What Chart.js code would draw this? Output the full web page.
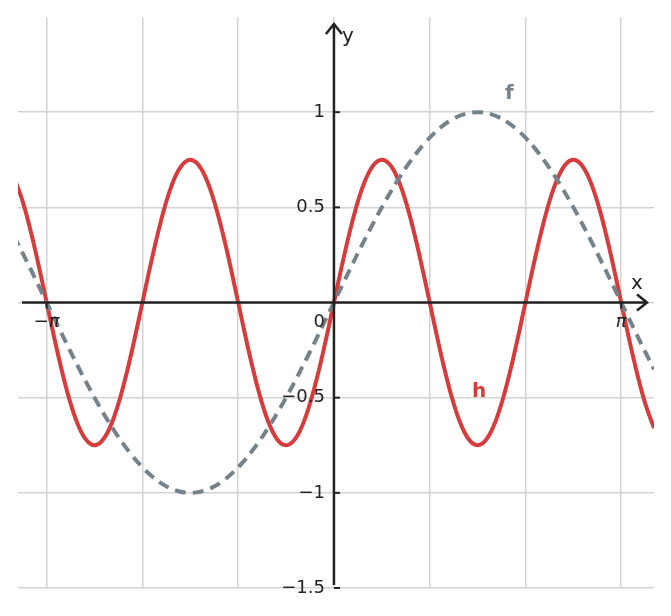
<!DOCTYPE html>
<html><head><meta charset="utf-8">
<script src="https://cdn.jsdelivr.net/npm/chart.js@4"></script>
<style>body{margin:0;background:#fff}#w{width:671px;height:616px}</style>
</head><body><div id="w"><canvas id="c"></canvas></div>
<script>
const xs=[-3.5,-3.4,-3.3,-3.2,-3.1,-3.0,-2.9,-2.8,-2.7,-2.6,-2.5,-2.4,-2.3,-2.2,-2.1,-2.0,-1.9,-1.8,-1.7,-1.6,-1.5,-1.4,-1.3,-1.2,-1.1,-1.0,-0.9,-0.8,-0.7,-0.6,-0.5,-0.4,-0.3,-0.2,-0.1,0,0.1,0.2,0.3,0.4,0.5,0.6,0.7,0.8,0.9,1.0,1.1,1.2,1.3,1.4,1.5,1.6,1.7,1.8,1.9,2.0,2.1,2.2,2.3,2.4,2.5,2.6,2.7,2.8,2.9,3.0,3.1,3.2,3.3,3.4,3.5];
const fPos=[0,.0998,.1987,.2955,.3894,.4794,.5646,.6442,.7174,.7833,.8415,.8912,.9320,.9636,.9854,.9975,.9996,.9917,.9738,.9463,.9093,.8632,.8085,.7457,.6755,.5985,.5155,.4274,.3350,.2392,.1411,.0416,-.0584,-.1577,-.2555,-.3508];
const hPos=[0,.2216,.4235,.5875,.6990,.7481,.7304,.6474,.5066,.3206,.1058,-.1183,-.3319,-.5159,-.6537,-.7331,-.7472,-.6944,-.5796,-.4130,-.2096,.0126,.2336,.4338,.5953,.7035,.7489,.7274,.6410,.4973,.3091,.0934,-.1307,-.3431,-.5249,-.6598];
const fVals=fPos.slice(1).reverse().map(v=>-v).concat(fPos);
const hVals=hPos.slice(1).reverse().map(v=>-v).concat(hPos);
const xTickLabels={"-3":"−π","3":"π"};
const yTicks=[1,0.5,-0.5,-1,-1.5];
const yTickLabels=["1","0.5","−0.5","−1","−1.5"];
const F="DejaVu Sans";
const deco={id:'deco',afterDatasetsDraw(ch){
 const c=ch.ctx,xs_=ch.scales.x,ys=ch.scales.y,a=ch.chartArea;
 const x0=xs_.getPixelForValue(0),y0=ys.getPixelForValue(0);
 c.save();c.strokeStyle='#222';c.fillStyle='#222';c.lineWidth=2.5;
 c.beginPath();c.moveTo(a.left+4,y0);c.lineTo(646,y0);c.stroke();
 c.beginPath();c.moveTo(x0,a.bottom-3);c.lineTo(x0,25);c.stroke();
 c.beginPath();c.moveTo(637,y0-8);c.lineTo(647,y0);c.lineTo(637,y0+8);c.stroke();
 c.beginPath();c.moveTo(x0-8,34);c.lineTo(x0,24);c.lineTo(x0+8,34);c.stroke();
 c.lineWidth=2;
 c.font='18px '+F;c.textBaseline='middle';
 yTicks.forEach((v,i)=>{const p=ys.getPixelForValue(v);c.beginPath();c.moveTo(x0,p);c.lineTo(x0+6,p);c.stroke();
  c.textAlign='right';c.fillText(yTickLabels[i],x0-9,p);});
 c.font='italic 18px '+F;
 Object.keys(xTickLabels).forEach(k=>{const p=xs_.getPixelForValue(+k*Math.PI/3);c.beginPath();c.moveTo(p,y0);c.lineTo(p,y0+6);c.stroke();
  c.textAlign='center';c.fillText(xTickLabels[k],p,y0+20);});
 c.font='18px '+F;
 c.textAlign='right';c.fillText('0',x0-9,y0+20);
 c.font='20px '+F;c.textAlign='left';c.fillText('x',631,y0-19);c.fillText('y',x0+8,37);
 c.font='bold 20px '+F;c.fillStyle='#76828a';c.fillText('f',505,94);
 c.fillStyle='#d63c3c';c.fillText('h',472,392);
 c.restore();}};
new Chart(document.getElementById('c'),{type:'line',
 data:{datasets:[
  {data:xs.map((x,i)=>({x,y:fVals[i]})),borderColor:'#76828a',borderWidth:4,borderDash:[11,7],pointRadius:0,tension:0.4,fill:false},
  {data:xs.map((x,i)=>({x,y:hVals[i]})),borderColor:'#d63c3c',borderWidth:4,pointRadius:0,tension:0.4,fill:false}]},
 options:{responsive:true,maintainAspectRatio:false,animation:false,
  layout:{padding:{left:18,right:17,top:17,bottom:28}},
  plugins:{legend:{display:false},tooltip:{enabled:false}},
  scales:{
   x:{type:'linear',min:-3.455,max:3.5,border:{display:false},ticks:{display:false},
      afterBuildTicks(s){s.ticks=[-3,-2,-1,0,1,2,3].map(k=>({value:k*Math.PI/3}));},
      grid:{color:'#d3d3d3',lineWidth:1.5,drawTicks:false}},
   y:{min:-1.5,max:1.5,border:{display:false},ticks:{display:false,stepSize:0.5},
      afterBuildTicks(s){s.ticks=[-1.5,-1,-0.5,0,0.5,1].map(v=>({value:v}));},
      grid:{color:'#d3d3d3',lineWidth:1.5,drawTicks:false}}}},
 plugins:[deco]});
</script></body></html>
